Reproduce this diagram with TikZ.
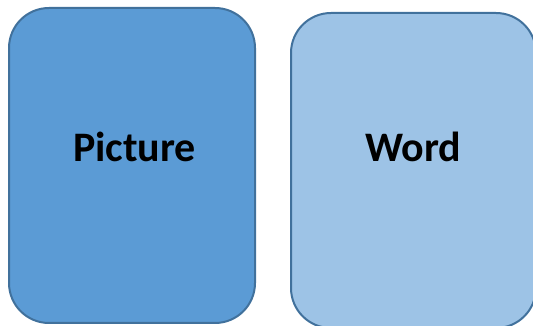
\documentclass[tikz,border=0pt]{standalone}
\usepackage{fontspec}
\setmainfont{Carlito}
\usetikzlibrary{positioning}
\definecolor{cardEdge}{HTML}{41719C}
\definecolor{picFill}{HTML}{5B9BD5}
\definecolor{wordFill}{HTML}{9DC3E6}
\tikzset{
  card/.style={draw=cardEdge, line width=2pt, rounded corners=40pt,
    minimum width=245pt, minimum height=315pt, inner sep=0pt},
  cardtext/.style={font=\fontsize{42}{50}\selectfont\bfseries, inner sep=0pt, anchor=base}
}
\begin{document}
\begin{tikzpicture}[x=1pt,y=1pt]
\useasboundingbox (0,0) rectangle (533,326);
%the cards
\node [card, fill=picFill, minimum width=246pt] (picBox) at (132,160.5) {};
\node [card, fill=wordFill, right=34pt of picBox, yshift=-5pt] (wordBox) {};
%the labels
\node [cardtext] (picText) at (134.5,164) {Picture};
\node [cardtext] (wordText) at (413.5,164) {Word};
\end{tikzpicture}
\end{document}
